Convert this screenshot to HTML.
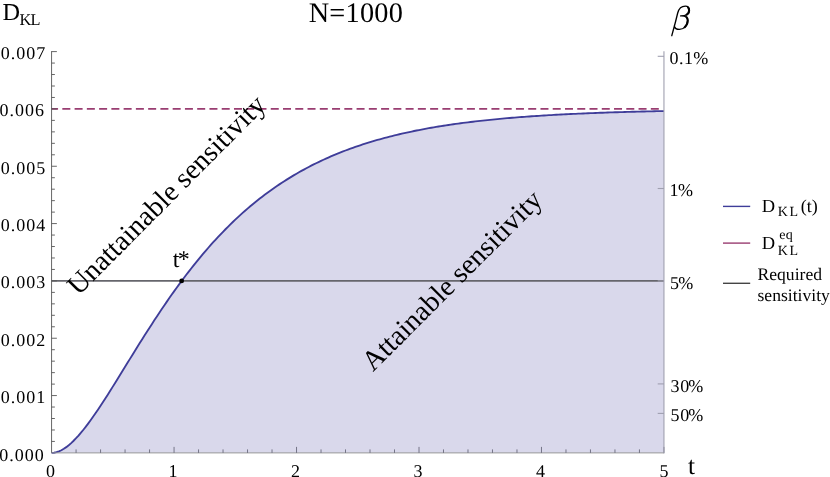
<!DOCTYPE html>
<html><head><meta charset="utf-8">
<style>
html,body{margin:0;padding:0;background:#fff;}
body{width:830px;height:477px;overflow:hidden;}
svg{display:block;will-change:transform;font-family:"Liberation Serif",serif;text-rendering:geometricPrecision;}
.yl text{font-size:18px;letter-spacing:1.0px;fill:#000;}
.xl text{font-size:18px;fill:#000;}
.rl text{font-size:18px;fill:#000;}
</style></head><body>
<svg width="830" height="477" viewBox="0 0 830 477">
<rect width="830" height="477" fill="#fff"/>
<path d="M51.57,452.90 L54.02,452.72 L56.47,452.20 L58.92,451.36 L61.37,450.22 L63.82,448.80 L66.27,447.13 L68.72,445.22 L71.17,443.09 L73.62,440.76 L76.07,438.24 L78.51,435.56 L80.96,432.71 L83.41,429.72 L85.86,426.60 L88.31,423.36 L90.76,420.01 L93.21,416.57 L95.66,413.04 L98.11,409.43 L100.56,405.75 L103.01,402.01 L105.46,398.23 L107.91,394.39 L110.36,390.52 L112.81,386.62 L115.26,382.69 L117.71,378.74 L120.16,374.78 L122.61,370.80 L125.06,366.83 L127.51,362.85 L129.95,358.88 L132.40,354.92 L134.85,350.97 L137.30,347.03 L139.75,343.11 L142.20,339.21 L144.65,335.34 L147.10,331.49 L149.55,327.67 L152.00,323.88 L154.45,320.12 L156.90,316.39 L159.35,312.70 L161.80,309.05 L164.25,305.44 L166.70,301.86 L169.15,298.32 L171.60,294.83 L174.05,291.38 L176.50,287.97 L178.95,284.60 L181.39,281.28 L183.84,278.01 L186.29,274.77 L188.74,271.59 L191.19,268.45 L193.64,265.35 L196.09,262.30 L198.54,259.30 L200.99,256.34 L203.44,253.43 L205.89,250.56 L208.34,247.74 L210.79,244.97 L213.24,242.24 L215.69,239.56 L218.14,236.92 L220.59,234.32 L223.04,231.78 L225.49,229.27 L227.94,226.81 L230.38,224.39 L232.83,222.01 L235.28,219.68 L237.73,217.39 L240.18,215.14 L242.63,212.93 L245.08,210.76 L247.53,208.63 L249.98,206.54 L252.43,204.49 L254.88,202.48 L257.33,200.51 L259.78,198.57 L262.23,196.68 L264.68,194.81 L267.13,192.99 L269.58,191.20 L272.03,189.44 L274.48,187.72 L276.93,186.04 L279.38,184.38 L281.82,182.76 L284.27,181.18 L286.72,179.62 L289.17,178.10 L291.62,176.60 L294.07,175.14 L296.52,173.70 L298.97,172.30 L301.42,170.92 L303.87,169.57 L306.32,168.25 L308.77,166.96 L311.22,165.69 L313.67,164.45 L316.12,163.24 L318.57,162.05 L321.02,160.88 L323.47,159.75 L325.92,158.63 L328.37,157.54 L330.82,156.47 L333.26,155.42 L335.71,154.39 L338.16,153.39 L340.61,152.41 L343.06,151.45 L345.51,150.51 L347.96,149.59 L350.41,148.69 L352.86,147.81 L355.31,146.94 L357.76,146.10 L360.21,145.27 L362.66,144.47 L365.11,143.68 L367.56,142.90 L370.01,142.14 L372.46,141.40 L374.91,140.68 L377.36,139.97 L379.81,139.28 L382.26,138.60 L384.70,137.94 L387.15,137.29 L389.60,136.65 L392.05,136.03 L394.50,135.43 L396.95,134.83 L399.40,134.25 L401.85,133.68 L404.30,133.13 L406.75,132.59 L409.20,132.05 L411.65,131.53 L414.10,131.03 L416.55,130.53 L419.00,130.04 L421.45,129.57 L423.90,129.10 L426.35,128.65 L428.80,128.21 L431.25,127.77 L433.70,127.35 L436.14,126.93 L438.59,126.53 L441.04,126.13 L443.49,125.74 L445.94,125.36 L448.39,124.99 L450.84,124.63 L453.29,124.27 L455.74,123.93 L458.19,123.59 L460.64,123.25 L463.09,122.93 L465.54,122.61 L467.99,122.30 L470.44,122.00 L472.89,121.71 L475.34,121.42 L477.79,121.13 L480.24,120.86 L482.69,120.59 L485.14,120.32 L487.58,120.06 L490.03,119.81 L492.48,119.56 L494.93,119.32 L497.38,119.09 L499.83,118.86 L502.28,118.63 L504.73,118.41 L507.18,118.20 L509.63,117.99 L512.08,117.78 L514.53,117.58 L516.98,117.38 L519.43,117.19 L521.88,117.00 L524.33,116.82 L526.78,116.64 L529.23,116.47 L531.68,116.29 L534.13,116.13 L536.57,115.96 L539.02,115.80 L541.47,115.65 L543.92,115.49 L546.37,115.34 L548.82,115.20 L551.27,115.06 L553.72,114.92 L556.17,114.78 L558.62,114.65 L561.07,114.52 L563.52,114.39 L565.97,114.27 L568.42,114.14 L570.87,114.03 L573.32,113.91 L575.77,113.80 L578.22,113.68 L580.67,113.58 L583.12,113.47 L585.57,113.37 L588.01,113.27 L590.46,113.17 L592.91,113.07 L595.36,112.98 L597.81,112.88 L600.26,112.79 L602.71,112.71 L605.16,112.62 L607.61,112.54 L610.06,112.45 L612.51,112.37 L614.96,112.29 L617.41,112.22 L619.86,112.14 L622.31,112.07 L624.76,112.00 L627.21,111.93 L629.66,111.86 L632.11,111.79 L634.56,111.73 L637.01,111.66 L639.45,111.60 L641.90,111.54 L644.35,111.48 L646.80,111.42 L649.25,111.37 L651.70,111.31 L654.15,111.26 L656.60,111.20 L659.05,111.15 L661.50,111.10 L663.95,111.05 L663.95,452.90 L51.57,452.90 Z" fill="#d9d8eb"/>
<line x1="51.57" y1="108.93" x2="662" y2="108.93" stroke="#993d71" stroke-width="1.7" stroke-dasharray="8,4.26" stroke-dashoffset="1.5"/>
<line x1="51.57" y1="280.91" x2="663.95" y2="280.91" stroke="#66666c" stroke-width="1.7"/>
<path d="M51.57,452.90 L54.02,452.72 L56.47,452.20 L58.92,451.36 L61.37,450.22 L63.82,448.80 L66.27,447.13 L68.72,445.22 L71.17,443.09 L73.62,440.76 L76.07,438.24 L78.51,435.56 L80.96,432.71 L83.41,429.72 L85.86,426.60 L88.31,423.36 L90.76,420.01 L93.21,416.57 L95.66,413.04 L98.11,409.43 L100.56,405.75 L103.01,402.01 L105.46,398.23 L107.91,394.39 L110.36,390.52 L112.81,386.62 L115.26,382.69 L117.71,378.74 L120.16,374.78 L122.61,370.80 L125.06,366.83 L127.51,362.85 L129.95,358.88 L132.40,354.92 L134.85,350.97 L137.30,347.03 L139.75,343.11 L142.20,339.21 L144.65,335.34 L147.10,331.49 L149.55,327.67 L152.00,323.88 L154.45,320.12 L156.90,316.39 L159.35,312.70 L161.80,309.05 L164.25,305.44 L166.70,301.86 L169.15,298.32 L171.60,294.83 L174.05,291.38 L176.50,287.97 L178.95,284.60 L181.39,281.28 L183.84,278.01 L186.29,274.77 L188.74,271.59 L191.19,268.45 L193.64,265.35 L196.09,262.30 L198.54,259.30 L200.99,256.34 L203.44,253.43 L205.89,250.56 L208.34,247.74 L210.79,244.97 L213.24,242.24 L215.69,239.56 L218.14,236.92 L220.59,234.32 L223.04,231.78 L225.49,229.27 L227.94,226.81 L230.38,224.39 L232.83,222.01 L235.28,219.68 L237.73,217.39 L240.18,215.14 L242.63,212.93 L245.08,210.76 L247.53,208.63 L249.98,206.54 L252.43,204.49 L254.88,202.48 L257.33,200.51 L259.78,198.57 L262.23,196.68 L264.68,194.81 L267.13,192.99 L269.58,191.20 L272.03,189.44 L274.48,187.72 L276.93,186.04 L279.38,184.38 L281.82,182.76 L284.27,181.18 L286.72,179.62 L289.17,178.10 L291.62,176.60 L294.07,175.14 L296.52,173.70 L298.97,172.30 L301.42,170.92 L303.87,169.57 L306.32,168.25 L308.77,166.96 L311.22,165.69 L313.67,164.45 L316.12,163.24 L318.57,162.05 L321.02,160.88 L323.47,159.75 L325.92,158.63 L328.37,157.54 L330.82,156.47 L333.26,155.42 L335.71,154.39 L338.16,153.39 L340.61,152.41 L343.06,151.45 L345.51,150.51 L347.96,149.59 L350.41,148.69 L352.86,147.81 L355.31,146.94 L357.76,146.10 L360.21,145.27 L362.66,144.47 L365.11,143.68 L367.56,142.90 L370.01,142.14 L372.46,141.40 L374.91,140.68 L377.36,139.97 L379.81,139.28 L382.26,138.60 L384.70,137.94 L387.15,137.29 L389.60,136.65 L392.05,136.03 L394.50,135.43 L396.95,134.83 L399.40,134.25 L401.85,133.68 L404.30,133.13 L406.75,132.59 L409.20,132.05 L411.65,131.53 L414.10,131.03 L416.55,130.53 L419.00,130.04 L421.45,129.57 L423.90,129.10 L426.35,128.65 L428.80,128.21 L431.25,127.77 L433.70,127.35 L436.14,126.93 L438.59,126.53 L441.04,126.13 L443.49,125.74 L445.94,125.36 L448.39,124.99 L450.84,124.63 L453.29,124.27 L455.74,123.93 L458.19,123.59 L460.64,123.25 L463.09,122.93 L465.54,122.61 L467.99,122.30 L470.44,122.00 L472.89,121.71 L475.34,121.42 L477.79,121.13 L480.24,120.86 L482.69,120.59 L485.14,120.32 L487.58,120.06 L490.03,119.81 L492.48,119.56 L494.93,119.32 L497.38,119.09 L499.83,118.86 L502.28,118.63 L504.73,118.41 L507.18,118.20 L509.63,117.99 L512.08,117.78 L514.53,117.58 L516.98,117.38 L519.43,117.19 L521.88,117.00 L524.33,116.82 L526.78,116.64 L529.23,116.47 L531.68,116.29 L534.13,116.13 L536.57,115.96 L539.02,115.80 L541.47,115.65 L543.92,115.49 L546.37,115.34 L548.82,115.20 L551.27,115.06 L553.72,114.92 L556.17,114.78 L558.62,114.65 L561.07,114.52 L563.52,114.39 L565.97,114.27 L568.42,114.14 L570.87,114.03 L573.32,113.91 L575.77,113.80 L578.22,113.68 L580.67,113.58 L583.12,113.47 L585.57,113.37 L588.01,113.27 L590.46,113.17 L592.91,113.07 L595.36,112.98 L597.81,112.88 L600.26,112.79 L602.71,112.71 L605.16,112.62 L607.61,112.54 L610.06,112.45 L612.51,112.37 L614.96,112.29 L617.41,112.22 L619.86,112.14 L622.31,112.07 L624.76,112.00 L627.21,111.93 L629.66,111.86 L632.11,111.79 L634.56,111.73 L637.01,111.66 L639.45,111.60 L641.90,111.54 L644.35,111.48 L646.80,111.42 L649.25,111.37 L651.70,111.31 L654.15,111.26 L656.60,111.20 L659.05,111.15 L661.50,111.10 L663.95,111.05" fill="none" stroke="#3f3d99" stroke-width="1.85"/>
<circle cx="181.67" cy="280.91" r="2.4" fill="#000"/>
<g stroke="#555" stroke-width="0.9">
<line x1="51.57" y1="51.15" x2="51.57" y2="452.9"/>
<line x1="51.57" y1="452.9" x2="663.95" y2="452.9" stroke="#999" stroke-width="1"/>
<line x1="51.57" y1="441.43" x2="54.87" y2="441.43"/>
<line x1="51.57" y1="429.97" x2="54.87" y2="429.97"/>
<line x1="51.57" y1="418.50" x2="54.87" y2="418.50"/>
<line x1="51.57" y1="407.04" x2="54.87" y2="407.04"/>
<line x1="51.57" y1="395.57" x2="56.87" y2="395.57"/>
<line x1="51.57" y1="384.11" x2="54.87" y2="384.11"/>
<line x1="51.57" y1="372.64" x2="54.87" y2="372.64"/>
<line x1="51.57" y1="361.17" x2="54.87" y2="361.17"/>
<line x1="51.57" y1="349.71" x2="54.87" y2="349.71"/>
<line x1="51.57" y1="338.24" x2="56.87" y2="338.24"/>
<line x1="51.57" y1="326.78" x2="54.87" y2="326.78"/>
<line x1="51.57" y1="315.31" x2="54.87" y2="315.31"/>
<line x1="51.57" y1="303.85" x2="54.87" y2="303.85"/>
<line x1="51.57" y1="292.38" x2="54.87" y2="292.38"/>
<line x1="51.57" y1="280.91" x2="56.87" y2="280.91"/>
<line x1="51.57" y1="269.45" x2="54.87" y2="269.45"/>
<line x1="51.57" y1="257.98" x2="54.87" y2="257.98"/>
<line x1="51.57" y1="246.52" x2="54.87" y2="246.52"/>
<line x1="51.57" y1="235.05" x2="54.87" y2="235.05"/>
<line x1="51.57" y1="223.59" x2="56.87" y2="223.59"/>
<line x1="51.57" y1="212.12" x2="54.87" y2="212.12"/>
<line x1="51.57" y1="200.65" x2="54.87" y2="200.65"/>
<line x1="51.57" y1="189.19" x2="54.87" y2="189.19"/>
<line x1="51.57" y1="177.72" x2="54.87" y2="177.72"/>
<line x1="51.57" y1="166.26" x2="56.87" y2="166.26"/>
<line x1="51.57" y1="154.79" x2="54.87" y2="154.79"/>
<line x1="51.57" y1="143.33" x2="54.87" y2="143.33"/>
<line x1="51.57" y1="131.86" x2="54.87" y2="131.86"/>
<line x1="51.57" y1="120.39" x2="54.87" y2="120.39"/>
<line x1="51.57" y1="108.93" x2="56.87" y2="108.93"/>
<line x1="51.57" y1="97.46" x2="54.87" y2="97.46"/>
<line x1="51.57" y1="86.00" x2="54.87" y2="86.00"/>
<line x1="51.57" y1="74.53" x2="54.87" y2="74.53"/>
<line x1="51.57" y1="63.07" x2="54.87" y2="63.07"/>
<line x1="51.57" y1="51.60" x2="56.87" y2="51.60"/>
<g stroke="#6a6a7c">
<line x1="76.07" y1="452.90" x2="76.07" y2="449.40"/>
<line x1="100.56" y1="452.90" x2="100.56" y2="449.40"/>
<line x1="125.06" y1="452.90" x2="125.06" y2="449.40"/>
<line x1="149.55" y1="452.90" x2="149.55" y2="449.40"/>
<line x1="174.05" y1="452.90" x2="174.05" y2="446.90"/>
<line x1="198.54" y1="452.90" x2="198.54" y2="449.40"/>
<line x1="223.04" y1="452.90" x2="223.04" y2="449.40"/>
<line x1="247.53" y1="452.90" x2="247.53" y2="449.40"/>
<line x1="272.03" y1="452.90" x2="272.03" y2="449.40"/>
<line x1="296.52" y1="452.90" x2="296.52" y2="446.90"/>
<line x1="321.02" y1="452.90" x2="321.02" y2="449.40"/>
<line x1="345.51" y1="452.90" x2="345.51" y2="449.40"/>
<line x1="370.01" y1="452.90" x2="370.01" y2="449.40"/>
<line x1="394.50" y1="452.90" x2="394.50" y2="449.40"/>
<line x1="419.00" y1="452.90" x2="419.00" y2="446.90"/>
<line x1="443.49" y1="452.90" x2="443.49" y2="449.40"/>
<line x1="467.99" y1="452.90" x2="467.99" y2="449.40"/>
<line x1="492.48" y1="452.90" x2="492.48" y2="449.40"/>
<line x1="516.98" y1="452.90" x2="516.98" y2="449.40"/>
<line x1="541.47" y1="452.90" x2="541.47" y2="446.90"/>
<line x1="565.97" y1="452.90" x2="565.97" y2="449.40"/>
<line x1="590.46" y1="452.90" x2="590.46" y2="449.40"/>
<line x1="614.96" y1="452.90" x2="614.96" y2="449.40"/>
<line x1="639.45" y1="452.90" x2="639.45" y2="449.40"/>
<line x1="663.95" y1="452.90" x2="663.95" y2="446.90"/>
</g>
</g>
<g stroke="#a0a0b0" stroke-width="1.1">
<line x1="663.95" y1="51.15" x2="663.95" y2="453.4"/>
<line x1="657.7" y1="56.3" x2="664.0" y2="56.3"/>
<line x1="657.7" y1="188.5" x2="664.0" y2="188.5"/>
<line x1="657.7" y1="280.9" x2="664.0" y2="280.9"/>
<line x1="657.7" y1="383.9" x2="664.0" y2="383.9"/>
<line x1="657.7" y1="413.4" x2="664.0" y2="413.4"/>
</g>
<g class="yl">
<text x="44.7" y="460.6" text-anchor="end">0.000</text>
<text x="46.2" y="403.0" text-anchor="end">0.001</text>
<text x="46.2" y="345.6" text-anchor="end">0.002</text>
<text x="46.2" y="288.3" text-anchor="end">0.003</text>
<text x="46.2" y="231.0" text-anchor="end">0.004</text>
<text x="46.2" y="173.7" text-anchor="end">0.005</text>
<text x="44.9" y="116.3" text-anchor="end">0.006</text>
<text x="46.2" y="59.0" text-anchor="end">0.007</text>
</g>
<g class="xl">
<text x="50.6" y="476.5" text-anchor="middle">0</text>
<text x="173.1" y="476.5" text-anchor="middle">1</text>
<text x="295.6" y="476.5" text-anchor="middle">2</text>
<text x="418.1" y="476.5" text-anchor="middle">3</text>
<text x="540.6" y="476.5" text-anchor="middle">4</text>
<text x="664.0" y="476.5" text-anchor="middle">5</text>
</g>
<g class="rl">
<text x="669.6 679 683.9 693.3" y="63.9">0.1%</text>
<text x="669.6 678" y="196.4">1%</text>
<text x="669.9 678.3" y="288.6">5%</text>
<text x="670.5 680.2 688.3" y="391.6">30%</text>
<text x="670.5 680.2 688.3" y="421.1">50%</text>
</g>
<text x="2.4" y="20" font-size="24.3">D</text>
<text x="19.6" y="24.6" font-size="16.3" letter-spacing="-0.8">KL</text>
<text x="355.9" y="21.7" font-size="28.3" text-anchor="middle" letter-spacing="0.25">N=1000</text>
<g fill="none" stroke="#000" stroke-linecap="round" stroke-linejoin="round">
<path stroke-width="1.35" d="M671.8,35.7 L675.6,21.5 L677.7,13 C678.8,8.8 681.6,6.1 685.3,6.1 C688,6.1 689.3,8 689.3,10.4 C689.3,13.6 686.6,15.8 680.6,15.9 C685.8,15.6 687.8,17.6 687.8,20.6 C687.8,25 684.2,29.4 679.4,29.4 C676.6,29.4 674.7,28 674.3,26"/>
<path stroke-width="2.1" d="M688.1,7.6 C688.9,8.4 689.1,9.4 689.1,10.5 C689.1,12.3 688.3,13.7 686.7,14.6"/>
<path stroke-width="2.1" d="M686.6,17.2 C687.4,18 687.7,19.2 687.7,20.6 C687.7,23 686.6,25.4 684.7,27.2"/>
</g>
<text x="687.9" y="473.9" font-size="25.3">t</text>
<text x="172.8" y="267.3" font-size="24" letter-spacing="-1.6">t*</text>
<text transform="translate(78.4,296.5) rotate(-45.2)" font-size="28.3">Unattainable sensitivity</text>
<text transform="translate(373.1,372.2) rotate(-45)" font-size="28.3">Attainable sensitivity</text>
<g stroke-width="1.4">
<line x1="723" y1="206.4" x2="750.2" y2="206.4" stroke="#3f3d99"/>
<line x1="723" y1="243.1" x2="750.2" y2="243.1" stroke="#993d71"/>
<line x1="723" y1="283.3" x2="750.2" y2="283.3" stroke="#444"/>
</g>
<g font-size="18">
<text x="761.7" y="212.4" font-size="18.5">D</text>
<text x="777.7" y="215.8" font-size="14" letter-spacing="1.8">KL</text>
<text x="800.8" y="212.3">(t)</text>
<text x="761.7" y="249.3" font-size="18.5">D</text>
<text x="777.7" y="254.8" font-size="14" letter-spacing="1.8">KL</text>
<text x="779.3" y="239.2" font-size="14" letter-spacing="0.3">eq</text>
<text x="757.5" y="279.8" font-size="17.6">Required</text>
<text x="757.5" y="300.9" font-size="17.6">sensitivity</text>
</g>
</svg>
</body></html>
